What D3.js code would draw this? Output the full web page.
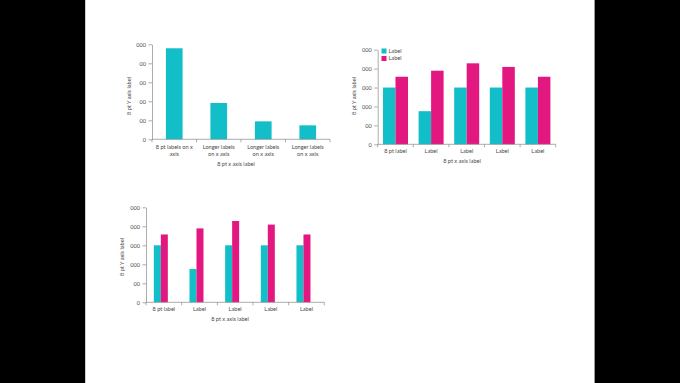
<!DOCTYPE html>
<html><head><meta charset="utf-8">
<script src="https://cdn.jsdelivr.net/npm/d3@7"></script>
<style>
html,body{margin:0;padding:0;background:#000;}
svg{display:block;}
text{font-family:Lato,"Open Sans",sans-serif;fill:#4a4a4a;}
</style></head>
<body>
<svg id="c" width="680" height="383"></svg>
<script>
// ---- data ----
const chart1Categories = [["8 pt labels on x","axis"],["Longer labels","on x axis"],["Longer labels","on x axis"],["Longer labels","on x axis"]];
const chart1Values = [958, 382, 189, 147];
const chart1Ticks = [0, 200, 400, 600, 800, 1000];
const chart1TickLabels = ["0", "00", "00", "00", "00", "000"];

const groupCategories = ["8 pt label", "Label", "Label", "Label", "Label"];
const seriesTeal = [3000, 1750, 3000, 3000, 3000];
const seriesPink = [3570, 3890, 4280, 4090, 3570];
const seriesNames = ["Label", "Label"];
const groupTicks = [0, 1000, 2000, 3000, 4000, 5000];
const groupTickLabels = ["0", "00", "000", "000", "000", "000"];

const yTitle = "8 pt Y axis label";
const xTitle = "8 pt x axis label";

const TEAL = "#12bec8", PINK = "#e2177f", AXIS = "#8a8a8a";
const FS = 5.6;

const svg = d3.select("#c");
svg.append("rect").attr("x",0).attr("y",0).attr("width",680).attr("height",383).attr("fill","#000");
svg.append("rect").attr("x",85).attr("y",0).attr("width",510).attr("height",383).attr("fill","#fff");
svg.append("line").attr("x1",85.5).attr("x2",85.5).attr("y1",0).attr("y2",383).attr("stroke","#ccc").attr("stroke-width",1);
svg.append("line").attr("x1",594.5).attr("x2",594.5).attr("y1",0).attr("y2",383).attr("stroke","#999").attr("stroke-width",1);

function axes(g, x, y, ticks, tickLabels, x0, x1) {
  const yAxis = d3.axisLeft(y).tickValues(ticks).tickSize(3.5).tickSizeOuter(0).tickPadding(2.5)
    .tickFormat((d,i)=>tickLabels[i]);
  const ya = g.append("g").attr("transform",`translate(${x0},0)`).call(yAxis);
  ya.selectAll("path,line").attr("stroke",AXIS).attr("stroke-width",0.7);
  ya.selectAll("text").attr("font-size",FS).attr("fill","#4a4a4a").style("font-family","Lato,'Open Sans',sans-serif");
  const base = y(0);
  g.append("line").attr("x1",x0).attr("x2",x1).attr("y1",base).attr("y2",base)
    .attr("stroke",AXIS).attr("stroke-width",0.7);
  const n = x.domain().length;
  const bounds = d3.range(n+1).map(i => x.range()[0] + i*x.step());
  g.selectAll(null).data(bounds).join("line")
    .attr("x1",d=>d).attr("x2",d=>d).attr("y1",base).attr("y2",base+3)
    .attr("stroke",AXIS).attr("stroke-width",0.7);
}

function titles(g, xt, xy, yx, yy) {
  g.append("text").attr("x",xt).attr("y",xy).attr("text-anchor","middle").attr("font-size",FS).text(xTitle);
  g.append("text").attr("transform",`translate(${yx},${yy}) rotate(-90)`).attr("text-anchor","middle")
    .attr("font-size",FS).text(yTitle);
}

// ---- chart 1 ----
{
  const g = svg.append("g");
  const x = d3.scaleBand().domain(d3.range(chart1Values.length)).range([152, 330]);
  const y = d3.scaleLinear().domain([0, 1000]).range([139.3, 44.3]);
  const bw = x.bandwidth()*0.375;
  g.selectAll("rect.b").data(chart1Values).join("rect")
    .attr("x",(d,i)=>x(i)+x.bandwidth()/2-bw/2).attr("width",bw)
    .attr("y",d=>y(d)).attr("height",d=>y(0)-y(d)).attr("fill",TEAL);
  axes(g, x, y, chart1Ticks, chart1TickLabels, 152, 330);
  chart1Categories.forEach((lines,i)=>{
    lines.forEach((t,j)=>{
      g.append("text").attr("x",x(i)+x.bandwidth()/2).attr("y",149.3+j*6.8)
        .attr("text-anchor","middle").attr("font-size",FS).text(t);
    });
  });
  titles(g, 236, 166.3, 131, 96);
}

function grouped(cfg) {
  const g = svg.append("g");
  const x = d3.scaleBand().domain(d3.range(groupCategories.length)).range([cfg.x0, cfg.x1]);
  const y = d3.scaleLinear().domain([0, 5000]).range([cfg.base, cfg.top]);
  const gw = cfg.barW*2;
  const inner = d3.scaleBand().domain([0,1]).range([0, gw]);
  const series = [seriesTeal, seriesPink];
  const colors = [TEAL, PINK];
  series.forEach((vals,s)=>{
    g.selectAll(null).data(vals).join("rect")
      .attr("x",(d,i)=>x(i)+x.bandwidth()/2-gw/2+cfg.shift+inner(s)).attr("width",inner.bandwidth())
      .attr("y",d=>y(d)).attr("height",d=>y(0)-y(d)).attr("fill",colors[s]);
  });
  axes(g, x, y, groupTicks, groupTickLabels, cfg.x0, cfg.x1);
  groupCategories.forEach((t,i)=>{
    g.append("text").attr("x",x(i)+x.bandwidth()/2).attr("y",cfg.base+8.4)
      .attr("text-anchor","middle").attr("font-size",FS).text(t);
  });
  titles(g, cfg.xt, cfg.base+18.3, cfg.yx, cfg.yy);
  if (cfg.legend) {
    seriesNames.forEach((n,s)=>{
      g.append("rect").attr("x",cfg.legend[0]).attr("y",cfg.legend[1]+s*7.5).attr("width",5).attr("height",5).attr("fill",colors[s]);
      g.append("text").attr("x",cfg.legend[0]+7).attr("y",cfg.legend[1]+s*7.5+4.4).attr("font-size",FS).text(n);
    });
  }
}

// ---- chart 2 ----
grouped({x0:377.7, x1:555.7, base:144.3, top:49.7, barW:12.5, shift:0, xt:462, yx:356, yy:96, legend:[381.5,48.5]});
// ---- chart 3 ----
grouped({x0:146, x1:324.3, base:302.3, top:207.3, barW:7, shift:-3, xt:230, yx:124, yy:257, legend:null});
</script>
</body></html>
